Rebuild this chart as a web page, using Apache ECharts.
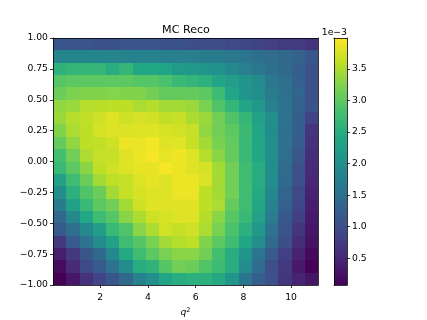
<!DOCTYPE html>
<html><head><meta charset="utf-8"><style>html,body{margin:0;padding:0;background:#fff}#c{width:427px;height:320px}</style>
<script src="https://cdn.jsdelivr.net/npm/echarts@6/dist/echarts.min.js"></script></head>
<body><div id="c"></div><script>
const xRange=[0.02,11.13];
const yRange=[-1,1];
const xTicks=[2,4,6,8,10];
const yTicks=[-1,-0.75,-0.5,-0.25,0,0.25,0.5,0.75,1];
const cbRange=[0.077,3.99];
const cbTicks=[0.5,1,1.5,2,2.5,3,3.5];
const viridisStops=['#440154','#482475','#414487','#355f8d','#2a788e','#21918c','#22a884','#44bf70','#7ad151','#bddf26','#fde725'];
// density in units of 1e-3, rows from y=1 (top) to y=-1 (bottom), columns by increasing q^2
const density=[
[1.10,1.10,1.10,1.05,1.05,1.10,1.10,1.10,1.05,1.05,1.00,1.00,1.00,0.95,0.90,0.85,0.80,0.75,0.75,0.65],
[1.85,1.85,1.85,1.85,1.85,1.80,1.80,1.80,1.75,1.75,1.75,1.70,1.70,1.65,1.60,1.50,1.45,1.40,1.30,1.15],
[2.57,2.65,2.65,2.65,2.50,2.65,2.40,2.40,2.35,2.20,2.15,2.10,2.05,1.90,1.75,1.65,1.50,1.40,1.25,1.03],
[2.95,3.00,3.00,3.00,3.00,3.00,2.95,2.95,2.85,2.70,2.65,2.55,2.35,2.25,2.10,1.95,1.65,1.50,1.25,1.03],
[3.10,3.22,3.25,3.25,3.28,3.25,3.25,3.15,3.05,3.05,3.05,3.00,2.75,2.35,2.10,2.00,1.70,1.53,1.35,1.03],
[3.35,3.40,3.55,3.58,3.60,3.60,3.50,3.55,3.45,3.45,3.40,3.20,2.90,2.65,2.35,2.15,1.75,1.58,1.30,1.08],
[3.40,3.55,3.62,3.70,3.80,3.70,3.75,3.72,3.62,3.65,3.50,3.40,3.15,2.90,2.65,2.30,2.00,1.58,1.26,0.86],
[3.25,3.50,3.60,3.75,3.80,3.78,3.80,3.80,3.75,3.72,3.65,3.35,3.15,3.00,2.72,2.35,1.95,1.53,1.26,0.68],
[3.05,3.35,3.60,3.62,3.70,3.88,3.88,3.92,3.80,3.82,3.65,3.45,3.20,3.05,2.70,2.40,2.00,1.53,1.22,0.63],
[2.80,3.15,3.50,3.65,3.65,3.80,3.88,3.95,3.85,3.90,3.80,3.55,3.30,3.05,2.70,2.40,2.00,1.48,1.13,0.58],
[2.70,3.00,3.30,3.60,3.70,3.80,3.85,3.85,3.95,3.88,3.80,3.75,3.45,3.15,2.77,2.50,2.00,1.45,1.03,0.54],
[2.30,2.77,3.10,3.45,3.60,3.65,3.80,3.85,3.80,3.88,3.88,3.78,3.45,3.15,2.77,2.50,1.95,1.44,1.03,0.50],
[2.00,2.55,2.90,3.10,3.45,3.65,3.75,3.80,3.80,3.88,3.88,3.60,3.45,3.15,2.77,2.45,1.90,1.35,0.95,0.45],
[1.70,2.30,2.70,3.00,3.15,3.45,3.70,3.80,3.80,3.82,3.82,3.60,3.50,3.05,2.77,2.40,1.80,1.30,0.90,0.40],
[1.40,1.90,2.40,2.77,2.95,3.30,3.50,3.70,3.75,3.80,3.80,3.55,3.30,2.95,2.70,2.30,1.70,1.17,0.81,0.36],
[1.17,1.50,1.90,2.25,2.70,2.90,3.30,3.50,3.72,3.65,3.70,3.50,3.20,2.85,2.55,2.15,1.55,1.08,0.68,0.32],
[0.72,1.20,1.55,1.95,2.30,2.77,2.95,3.20,3.45,3.55,3.60,3.25,3.00,2.77,2.35,2.00,1.44,1.00,0.58,0.27],
[0.40,0.72,1.12,1.40,1.90,2.45,2.77,3.00,3.20,3.30,3.30,3.15,2.80,2.50,2.10,1.60,1.17,0.81,0.45,0.18],
[0.20,0.55,0.95,1.20,1.55,1.95,2.50,2.60,2.95,3.15,3.10,2.90,2.75,2.50,1.95,1.45,1.00,0.72,0.36,0.10],
[0.08,0.32,0.63,0.86,1.12,1.40,1.80,2.00,2.35,2.50,2.55,2.55,2.45,2.10,1.60,1.26,1.03,0.68,0.45,0.32]
];
const FONT='"DejaVu Sans"';
const TXT='#000';
function hex(h){return [1,3,5].map(i=>parseInt(h.substr(i,2),16));}
function colorOf(v){
  let t=(v-cbRange[0])/(cbRange[1]-cbRange[0]);t=Math.max(0,Math.min(1,t));
  const p=t*(viridisStops.length-1),i=Math.min(Math.floor(p),viridisStops.length-2),f=p-i;
  const a=hex(viridisStops[i]),b=hex(viridisStops[i+1]);
  return 'rgb('+a.map((c,k)=>Math.round(c+(b[k]-c)*f)).join(',')+')';
}
const nCols=density[0].length,nRows=density.length;
const dx=(xRange[1]-xRange[0])/nCols,dy=(yRange[1]-yRange[0])/nRows;
const cells=[];
density.forEach((row,r)=>row.forEach((v,c)=>{
  cells.push([xRange[0]+c*dx,yRange[1]-(r+1)*dy,xRange[0]+(c+1)*dx,yRange[1]-r*dy,v]);
}));
const cbLevels=[];const cbSteps=247;
for(let i=0;i<cbSteps;i++){
  const lo=cbRange[0]+(cbRange[1]-cbRange[0])*i/cbSteps,hi=cbRange[0]+(cbRange[1]-cbRange[0])*(i+1)/cbSteps;
  cbLevels.push([0,lo,1,hi,(lo+hi)/2]);
}
function rectItem(params,api){
  const p0=api.coord([api.value(0),api.value(1)]),p1=api.coord([api.value(2),api.value(3)]);
  const x0=Math.round(p0[0]),x1=Math.round(p1[0]),y0=Math.round(p1[1]),y1=Math.round(p0[1]);
  return {type:'rect',shape:{x:x0,y:y0,width:x1-x0,height:y1-y0},style:{fill:colorOf(api.value(4))}};
}
const line={show:true,onZero:false,lineStyle:{color:'#000',width:0.8}};
const tick={show:true,length:3,inside:false,lineStyle:{color:'#000',width:0.8}};
const lab={color:TXT,fontFamily:FONT,fontSize:9.26,margin:5,hideOverlap:false};
const none={show:false};
function frameX(g,range,pos){return {type:'value',gridIndex:g,position:pos,min:range[0],max:range[1],axisLine:line,axisTick:none,axisLabel:none,splitLine:none,z:10};}
function frameY(g,range,pos){return {type:'value',gridIndex:g,position:pos,min:range[0],max:range[1],axisLine:line,axisTick:none,axisLabel:none,splitLine:none,z:10};}
const chart=echarts.init(document.getElementById('c'),null,{renderer:'canvas'});
chart.setOption({
  animation:false,backgroundColor:'#fff',
  title:{text:'MC Reco',left:181,top:20,textAlign:'center',textStyle:{color:TXT,fontFamily:FONT,fontSize:11.1,fontWeight:'normal'}},
  grid:[{left:53,top:38,width:265,height:247,containLabel:false,outerBoundsMode:'none'},{left:334,top:38,width:13,height:247,containLabel:false,outerBoundsMode:'none'}],
  xAxis:[
    Object.assign(frameX(0,xRange,'bottom'),{
      axisTick:Object.assign({},tick,{customValues:xTicks}),
      axisLabel:Object.assign({},lab,{show:true,customValues:xTicks,margin:8}),
      name:'{q|q}{s|2}',nameLocation:'middle',nameGap:19,
      nameTextStyle:{rich:{q:{fontFamily:FONT,fontStyle:'italic',fontSize:9.26,color:TXT},s:{fontFamily:FONT,fontSize:6.5,color:TXT,padding:[0,0,5,0]}}}
    }),
    frameX(0,xRange,'top'),
    frameX(1,[0,1],'bottom'),frameX(1,[0,1],'top')
  ],
  yAxis:[
    Object.assign(frameY(0,yRange,'left'),{
      axisTick:Object.assign({},tick,{customValues:yTicks}),
      axisLabel:Object.assign({},lab,{show:true,customValues:yTicks,padding:[4,0,0,0],formatter:v=>(+v).toFixed(2).replace('-','\u2212')})
    }),
    frameY(0,yRange,'right'),
    frameY(1,cbRange,'left'),
    Object.assign(frameY(1,cbRange,'right'),{
      axisTick:Object.assign({},tick,{customValues:cbTicks}),
      axisLabel:Object.assign({},lab,{show:true,customValues:cbTicks,padding:[4,0,0,0],formatter:v=>(+v).toFixed(1)}),
      name:'1e\u22123',nameLocation:'end',nameGap:1,
      nameTextStyle:{color:TXT,fontFamily:FONT,fontSize:9.26,align:'right',verticalAlign:'bottom'}
    })
  ],
  series:[
    {type:'custom',xAxisIndex:0,yAxisIndex:0,data:cells,renderItem:rectItem,clip:false,silent:true,encode:{x:[0,2],y:[1,3]}},
    {type:'custom',xAxisIndex:2,yAxisIndex:2,data:cbLevels,renderItem:rectItem,clip:false,silent:true,encode:{x:[0,2],y:[1,3]}}
  ]
});
</script></body></html>
